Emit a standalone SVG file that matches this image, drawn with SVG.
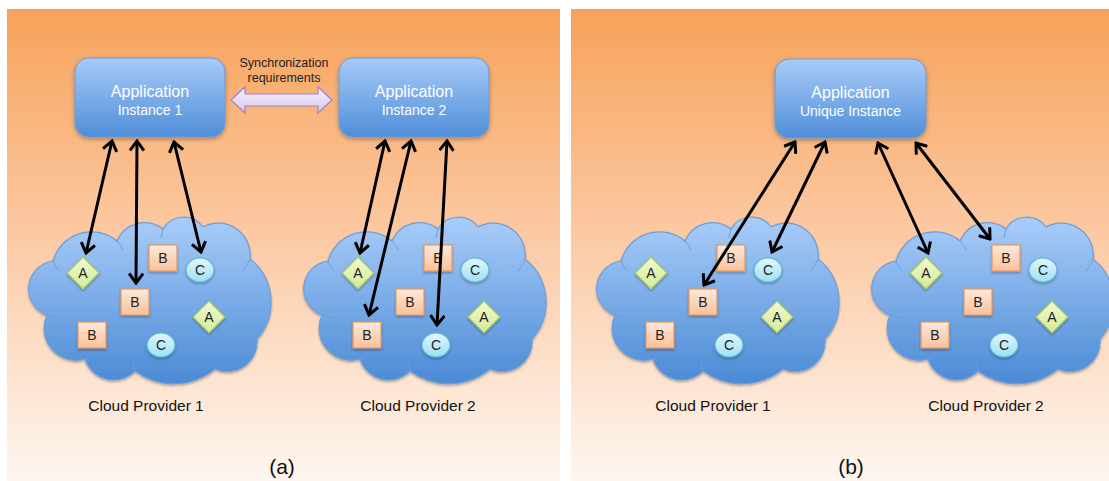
<svg xmlns="http://www.w3.org/2000/svg" xmlns:xlink="http://www.w3.org/1999/xlink" width="1109" height="481" viewBox="0 0 1109 481">
  <defs>
    <linearGradient id="bg" x1="0" y1="0" x2="0" y2="1">
      <stop offset="0" stop-color="#f7a25a"/>
      <stop offset="0.45" stop-color="#fbc79f"/>
      <stop offset="1" stop-color="#fef6f0"/>
    </linearGradient>
    <linearGradient id="boxFill" x1="0" y1="0" x2="0" y2="1">
      <stop offset="0" stop-color="#a8cbf9"/>
      <stop offset="1" stop-color="#4f8ed9"/>
    </linearGradient>
    <linearGradient id="cloudFill" x1="0" y1="0" x2="0" y2="1">
      <stop offset="0" stop-color="#a9cdf9"/>
      <stop offset="1" stop-color="#4b8ad5"/>
    </linearGradient>
    <linearGradient id="syncFill" x1="0" y1="0" x2="0" y2="1">
      <stop offset="0" stop-color="#f8f3fc"/>
      <stop offset="1" stop-color="#d6c5ea"/>
    </linearGradient>
    <linearGradient id="aFill" x1="0" y1="0" x2="0" y2="1">
      <stop offset="0" stop-color="#f1f9d0"/>
      <stop offset="1" stop-color="#d3ea98"/>
    </linearGradient>
    <linearGradient id="bFill" x1="0" y1="0" x2="0" y2="1">
      <stop offset="0" stop-color="#fee9da"/>
      <stop offset="1" stop-color="#f9c19b"/>
    </linearGradient>
    <linearGradient id="cFill" x1="0" y1="0" x2="0" y2="1">
      <stop offset="0" stop-color="#e3f7fd"/>
      <stop offset="1" stop-color="#9fdff3"/>
    </linearGradient>
    <filter id="shadow" x="-20%" y="-20%" width="140%" height="150%">
      <feDropShadow dx="0" dy="2" stdDeviation="2" flood-color="#000" flood-opacity="0.3"/>
    </filter>
    <filter id="smallShadow" x="-30%" y="-30%" width="160%" height="170%">
      <feDropShadow dx="0" dy="1.5" stdDeviation="1" flood-color="#000" flood-opacity="0.3"/>
    </filter>
    <marker id="head" viewBox="-12 -8 14 16" refX="0" refY="0" markerWidth="14" markerHeight="16" markerUnits="userSpaceOnUse" orient="auto-start-reverse">
      <path d="M -9.5 -7 L 0 0 L -9.5 7" fill="none" stroke="#000" stroke-width="3" stroke-linejoin="miter"/>
    </marker>
    <g id="cloudShape">
      <path d="M 22 96 A 28 28 0 0 1 28 42 A 40 40 0 0 1 92 22 A 30 30 0 0 1 138 10 A 24 24 0 0 1 178 8 A 32 32 0 0 1 225 40 A 55 55 0 0 1 232 120 A 30 30 0 0 1 190 150 A 65 65 0 0 1 110 152 A 30 30 0 0 1 60 140 A 32 32 0 0 1 22 96 Z" fill="url(#cloudFill)" stroke="#6c9edb" stroke-width="1.2" filter="url(#smallShadow)"/>
      <path d="M 22 96 Q 29 99 36 98 M 28 42 Q 30 48 34 52 M 92 22 Q 96 26 98 31 M 138 10 Q 137 15 136 19 M 225 40 Q 222 47 218 52 M 232 120 Q 226 112 217 108 M 110 152 Q 108 146 109 140 M 60 140 Q 64 136 70 134" fill="none" stroke="#6c9edb" stroke-width="1"/>
    </g>
    <polygon id="diamond" points="0,-16 16,0 0,16 -16,0" fill="url(#aFill)" stroke="#a6c766" stroke-width="1.2" filter="url(#smallShadow)"/>
    <rect id="square" x="-14" y="-13" width="28" height="26" fill="url(#bFill)" stroke="#e4985f" stroke-width="1.2" filter="url(#smallShadow)"/>
    <ellipse id="circle" cx="0" cy="0" rx="14" ry="12" fill="url(#cFill)" stroke="#5cb5d6" stroke-width="1.2" filter="url(#smallShadow)"/>
  </defs>
  <style>
    .app { fill: url(#boxFill); stroke: #6c9bd6; stroke-width: 1; filter: url(#shadow); }
    .appT1 { font-family: "Liberation Sans", Arial, sans-serif; font-size: 16px; fill: #ffffff; text-anchor: middle; }
    .appT2 { font-family: "Liberation Sans", Arial, sans-serif; font-size: 14px; fill: #ffffff; text-anchor: middle; }
    .lbl { font-family: "Liberation Sans", Arial, sans-serif; font-size: 15.5px; fill: #111; text-anchor: middle; }
    .cap { font-family: "Liberation Sans", Arial, sans-serif; font-size: 21px; fill: #111; text-anchor: middle; }
    .sync { font-family: "Liberation Sans", Arial, sans-serif; font-size: 12.5px; fill: #222; text-anchor: middle; }
    .it { font-family: "Liberation Sans", Arial, sans-serif; font-size: 14px; fill: #222; text-anchor: middle; }
    .conn { stroke: #000; stroke-width: 3; fill: none; marker-start: url(#head); marker-end: url(#head); }
  </style>

  <rect x="0" y="0" width="1109" height="481" fill="#ffffff"/>
  <g id="panel-a">
    <rect x="7" y="9" width="553" height="472" fill="url(#bg)"/>
  </g>
  <g id="panel-b">
    <rect x="571" y="9" width="538" height="472" fill="url(#bg)"/>
  </g>

  <!-- Clouds -->
  <g id="cloud-a1"><use xlink:href="#cloudShape" transform="translate(25,219)"/></g>
  <g id="cloud-a2"><use xlink:href="#cloudShape" transform="translate(300,219)"/></g>
  <g id="cloud-b1"><use xlink:href="#cloudShape" transform="translate(593,219)"/></g>
  <g id="cloud-b2"><use xlink:href="#cloudShape" transform="translate(868,219)"/></g>

  <!-- Cloud items: panel a cloud 1 -->
  <g id="a1-A1" transform="translate(83,273)"><use xlink:href="#diamond"/><text class="it" y="5">A</text></g>
  <g id="a1-B1" transform="translate(163,258)"><use xlink:href="#square"/><text class="it" y="5">B</text></g>
  <g id="a1-C1" transform="translate(200,270)"><use xlink:href="#circle"/><text class="it" y="5">C</text></g>
  <g id="a1-B2" transform="translate(135,302)"><use xlink:href="#square"/><text class="it" y="5">B</text></g>
  <g id="a1-A2" transform="translate(209,317)"><use xlink:href="#diamond"/><text class="it" y="5">A</text></g>
  <g id="a1-B3" transform="translate(92,335)"><use xlink:href="#square"/><text class="it" y="5">B</text></g>
  <g id="a1-C2" transform="translate(161,345)"><use xlink:href="#circle"/><text class="it" y="5">C</text></g>

  <!-- panel a cloud 2 -->
  <g id="a2-A1" transform="translate(358,273)"><use xlink:href="#diamond"/><text class="it" y="5">A</text></g>
  <g id="a2-B1" transform="translate(438,258)"><use xlink:href="#square"/><text class="it" y="5">B</text></g>
  <g id="a2-C1" transform="translate(475,270)"><use xlink:href="#circle"/><text class="it" y="5">C</text></g>
  <g id="a2-B2" transform="translate(410,302)"><use xlink:href="#square"/><text class="it" y="5">B</text></g>
  <g id="a2-A2" transform="translate(484,317)"><use xlink:href="#diamond"/><text class="it" y="5">A</text></g>
  <g id="a2-B3" transform="translate(367,335)"><use xlink:href="#square"/><text class="it" y="5">B</text></g>
  <g id="a2-C2" transform="translate(436,345)"><use xlink:href="#circle"/><text class="it" y="5">C</text></g>

  <!-- panel b cloud 1 -->
  <g id="b1-A1" transform="translate(651,273)"><use xlink:href="#diamond"/><text class="it" y="5">A</text></g>
  <g id="b1-B1" transform="translate(731,258)"><use xlink:href="#square"/><text class="it" y="5">B</text></g>
  <g id="b1-C1" transform="translate(768,270)"><use xlink:href="#circle"/><text class="it" y="5">C</text></g>
  <g id="b1-B2" transform="translate(703,302)"><use xlink:href="#square"/><text class="it" y="5">B</text></g>
  <g id="b1-A2" transform="translate(777,317)"><use xlink:href="#diamond"/><text class="it" y="5">A</text></g>
  <g id="b1-B3" transform="translate(660,335)"><use xlink:href="#square"/><text class="it" y="5">B</text></g>
  <g id="b1-C2" transform="translate(729,345)"><use xlink:href="#circle"/><text class="it" y="5">C</text></g>

  <!-- panel b cloud 2 -->
  <g id="b2-A1" transform="translate(926,273)"><use xlink:href="#diamond"/><text class="it" y="5">A</text></g>
  <g id="b2-B1" transform="translate(1006,258)"><use xlink:href="#square"/><text class="it" y="5">B</text></g>
  <g id="b2-C1" transform="translate(1043,270)"><use xlink:href="#circle"/><text class="it" y="5">C</text></g>
  <g id="b2-B2" transform="translate(978,302)"><use xlink:href="#square"/><text class="it" y="5">B</text></g>
  <g id="b2-A2" transform="translate(1052,317)"><use xlink:href="#diamond"/><text class="it" y="5">A</text></g>
  <g id="b2-B3" transform="translate(935,335)"><use xlink:href="#square"/><text class="it" y="5">B</text></g>
  <g id="b2-C2" transform="translate(1004,345)"><use xlink:href="#circle"/><text class="it" y="5">C</text></g>

  <!-- Application boxes -->
  <g id="app-instance-1">
    <rect class="app" x="75" y="58" width="150" height="79" rx="14"/>
    <text class="appT1" x="150" y="97">Application</text>
    <text class="appT2" x="150" y="115">Instance 1</text>
  </g>
  <g id="app-instance-2">
    <rect class="app" x="339" y="58" width="150" height="79" rx="14"/>
    <text class="appT1" x="414" y="97">Application</text>
    <text class="appT2" x="414" y="115">Instance 2</text>
  </g>
  <g id="app-unique">
    <rect class="app" x="775" y="59" width="151" height="79" rx="14"/>
    <text class="appT1" x="850.5" y="98">Application</text>
    <text class="appT2" x="850.5" y="116">Unique Instance</text>
  </g>

  <!-- Sync arrow -->
  <g id="sync">
    <polygon points="231,100 245,87 245,94 318,94 318,87 332,100 318,113 318,106 245,106 245,113" fill="url(#syncFill)" stroke="#9c85c6" stroke-width="1.2"/>
    <text class="sync" x="284" y="67">Synchronization</text>
    <text class="sync" x="284" y="82">requirements</text>
  </g>

  <!-- Connectors -->
  <g id="connectors">
    <line class="conn" x1="112" y1="141" x2="86" y2="253"/>
    <line class="conn" x1="137" y1="141" x2="136" y2="283"/>
    <line class="conn" x1="174" y1="142" x2="201" y2="252"/>
    <line class="conn" x1="385" y1="141" x2="360" y2="253"/>
    <line class="conn" x1="411" y1="141" x2="369" y2="315"/>
    <line class="conn" x1="447" y1="141" x2="437" y2="325"/>
    <line class="conn" x1="795" y1="142" x2="704" y2="285"/>
    <line class="conn" x1="825" y1="142" x2="772" y2="252"/>
    <line class="conn" x1="878" y1="143" x2="928" y2="253"/>
    <line class="conn" x1="916" y1="143" x2="990" y2="239"/>
  </g>

  <!-- Labels -->
  <text class="lbl" x="146" y="411">Cloud Provider 1</text>
  <text class="lbl" x="418" y="411">Cloud Provider 2</text>
  <text class="lbl" x="713" y="411">Cloud Provider 1</text>
  <text class="lbl" x="986" y="411">Cloud Provider 2</text>
  <text class="cap" x="282" y="474">(a)</text>
  <text class="cap" x="851" y="474">(b)</text>
</svg>
